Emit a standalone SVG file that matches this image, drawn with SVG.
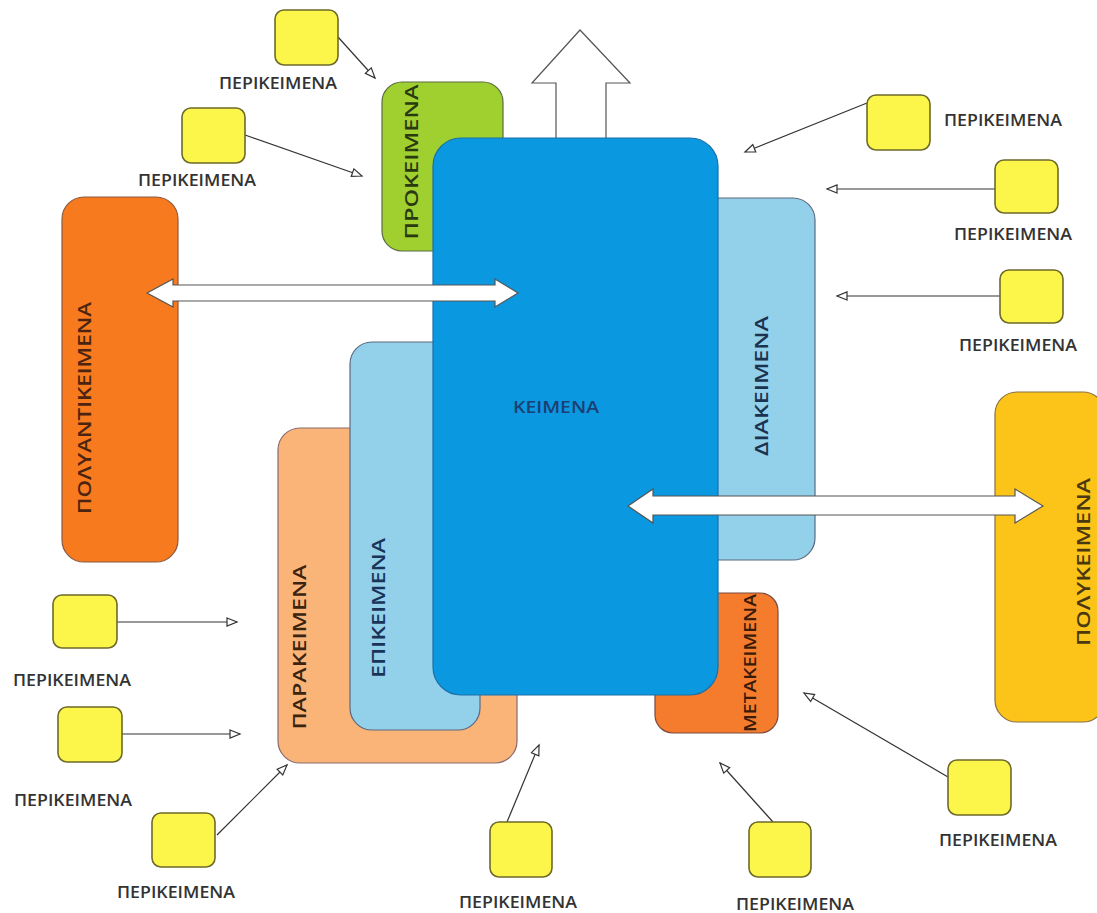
<svg xmlns="http://www.w3.org/2000/svg" width="1097" height="913" viewBox="0 0 1097 913">
<style>
.lbl{font-family:"Open Sans","DejaVu Sans",sans-serif;font-size:16px;font-weight:600;fill:#333;text-anchor:middle}
.vt{font-family:"Open Sans","DejaVu Sans",sans-serif;font-size:18px;font-weight:600;text-anchor:middle}
.box{fill:#fcf64a;stroke:#6e6a2a;stroke-width:1.6}
.con{stroke:#333;stroke-width:1.2;fill:none;marker-end:url(#tri)}
.big{stroke-width:1.2}
.dbl{fill:#fff;stroke:#555;stroke-width:1.2}
</style>
<defs>
<marker id="tri" markerUnits="userSpaceOnUse" markerWidth="14" markerHeight="12" refX="11" refY="5" orient="auto">
<path d="M1,1 L11,5 L1,9 z" fill="#fff" stroke="#333" stroke-width="1.2"/>
</marker>
</defs>
<rect width="1097" height="913" fill="#fff"/>

<g id="polyantikeimena">
<rect class="big" x="62" y="197" width="116" height="365" rx="22" fill="#f77a1e" stroke="#8a5a40"/>
<text class="vt" transform="translate(91,408) rotate(-90)" fill="#4a2410" textLength="212" lengthAdjust="spacingAndGlyphs">ΠΟΛΥΑΝΤΙΚΕΙΜΕΝΑ</text>
</g>
<g id="polykeimena">
<rect class="big" x="995" y="392" width="110" height="330" rx="22" fill="#fcc419" stroke="#8a7040"/>
<text class="vt" transform="translate(1090,562) rotate(-90)" fill="#4a3810" textLength="168" lengthAdjust="spacingAndGlyphs">ΠΟΛΥΚΕΙΜΕΝΑ</text>
</g>
<g id="parakeimena">
<rect class="big" x="278" y="428" width="239" height="335" rx="22" fill="#fbb478" stroke="#8a6a70"/>
<text class="vt" transform="translate(306,647) rotate(-90)" fill="#3a2410" textLength="165" lengthAdjust="spacingAndGlyphs">ΠΑΡΑΚΕΙΜΕΝΑ</text>
</g>
<g id="epikeimena">
<rect class="big" x="350" y="342" width="130" height="388" rx="22" fill="#93d0ea" stroke="#5a6a80"/>
<text class="vt" transform="translate(385,608) rotate(-90)" fill="#1a3358" textLength="140" lengthAdjust="spacingAndGlyphs">ΕΠΙΚΕΙΜΕΝΑ</text>
</g>
<g id="prokeimena">
<rect class="big" x="382" y="82" width="121" height="169" rx="20" fill="#a0d030" stroke="#5a6a40"/>
<text class="vt" transform="translate(418,162) rotate(-90)" fill="#2a3a10" textLength="155" lengthAdjust="spacingAndGlyphs">ΠΡΟΚΕΙΜΕΝΑ</text>
</g>
<g id="diakeimena">
<rect class="big" x="690" y="198" width="125" height="362" rx="22" fill="#93d0ea" stroke="#5a6a80"/>
<text class="vt" transform="translate(768,386) rotate(-90)" fill="#1a3350" textLength="140" lengthAdjust="spacingAndGlyphs">ΔΙΑΚΕΙΜΕΝΑ</text>
</g>
<g id="metakeimena">
<rect class="big" x="655" y="593" width="123" height="140" rx="18" fill="#f47c2c" stroke="#7a4a40"/>
<text class="vt" transform="translate(756,663) rotate(-90)" fill="#3a1a08" style="font-size:16px" textLength="138" lengthAdjust="spacingAndGlyphs">ΜΕΤΑΚΕΙΜΕΝΑ</text>
</g>
<g id="uparrow">
<path d="M556,139 L556,83 L532,83 L580,30 L630,83 L606,83 L606,139" fill="#fff" stroke="#555" stroke-width="1.2"/>
</g>
<g id="keimena">
<rect class="big" x="433" y="138" width="285" height="557" rx="28" fill="#0a99e0" stroke="#1a70a8"/>
<text x="556" y="413" style="font-family:'Open Sans','DejaVu Sans',sans-serif;font-size:17px;font-weight:600;fill:#1c3f74;text-anchor:middle" textLength="86" lengthAdjust="spacingAndGlyphs">ΚΕΙΜΕΝΑ</text>
</g>

<g id="connectors">
<polygon class="dbl" points="147,293 173,279 173,285 495,285 495,279 518,293 495,307 495,301 173,301 173,307"/>
<polygon class="dbl" points="628,506 653,489 653,496 1015,496 1015,489 1043,506 1015,523 1015,515 653,515 653,523"/>
<line class="con" x1="338" y1="37" x2="375" y2="78"/>
<line class="con" x1="245" y1="135" x2="362" y2="176"/>
<line class="con" x1="867" y1="103" x2="745" y2="152"/>
<line class="con" x1="995" y1="189" x2="827" y2="189"/>
<line class="con" x1="1000" y1="296" x2="837" y2="296"/>
<line class="con" x1="117" y1="622" x2="237" y2="622"/>
<line class="con" x1="122" y1="734" x2="240" y2="734"/>
<line class="con" x1="217" y1="835" x2="287" y2="765"/>
<line class="con" x1="507" y1="822" x2="539" y2="745"/>
<line class="con" x1="773" y1="822" x2="720" y2="763"/>
<line class="con" x1="948" y1="777" x2="804" y2="693"/>
</g>

<g id="p1"><rect class="box" x="275" y="10" width="63" height="55" rx="9"/><text class="lbl" x="278" y="89" textLength="118" lengthAdjust="spacingAndGlyphs">ΠΕΡΙΚΕΙΜΕΝΑ</text></g>
<g id="p2"><rect class="box" x="182" y="108" width="63" height="55" rx="9"/><text class="lbl" x="197" y="186" textLength="118" lengthAdjust="spacingAndGlyphs">ΠΕΡΙΚΕΙΜΕΝΑ</text></g>
<g id="p3"><rect class="box" x="867" y="95" width="63" height="55" rx="9"/><text class="lbl" x="1003" y="126" textLength="118" lengthAdjust="spacingAndGlyphs">ΠΕΡΙΚΕΙΜΕΝΑ</text></g>
<g id="p4"><rect class="box" x="995" y="160" width="63" height="53" rx="9"/><text class="lbl" x="1013" y="240" textLength="118" lengthAdjust="spacingAndGlyphs">ΠΕΡΙΚΕΙΜΕΝΑ</text></g>
<g id="p5"><rect class="box" x="1000" y="270" width="63" height="53" rx="9"/><text class="lbl" x="1018" y="351" textLength="118" lengthAdjust="spacingAndGlyphs">ΠΕΡΙΚΕΙΜΕΝΑ</text></g>
<g id="p6"><rect class="box" x="53" y="595" width="64" height="53" rx="9"/><text class="lbl" x="72" y="686" textLength="118" lengthAdjust="spacingAndGlyphs">ΠΕΡΙΚΕΙΜΕΝΑ</text></g>
<g id="p7"><rect class="box" x="58" y="707" width="64" height="55" rx="9"/><text class="lbl" x="73" y="806" textLength="118" lengthAdjust="spacingAndGlyphs">ΠΕΡΙΚΕΙΜΕΝΑ</text></g>
<g id="p8"><rect class="box" x="152" y="813" width="63" height="54" rx="9"/><text class="lbl" x="176" y="898" textLength="118" lengthAdjust="spacingAndGlyphs">ΠΕΡΙΚΕΙΜΕΝΑ</text></g>
<g id="p9"><rect class="box" x="490" y="822" width="62" height="55" rx="9"/><text class="lbl" x="518" y="908" textLength="118" lengthAdjust="spacingAndGlyphs">ΠΕΡΙΚΕΙΜΕΝΑ</text></g>
<g id="p10"><rect class="box" x="749" y="822" width="62" height="55" rx="9"/><text class="lbl" x="795" y="910" textLength="118" lengthAdjust="spacingAndGlyphs">ΠΕΡΙΚΕΙΜΕΝΑ</text></g>
<g id="p11"><rect class="box" x="948" y="760" width="63" height="55" rx="9"/><text class="lbl" x="998" y="846" textLength="118" lengthAdjust="spacingAndGlyphs">ΠΕΡΙΚΕΙΜΕΝΑ</text></g>
</svg>
